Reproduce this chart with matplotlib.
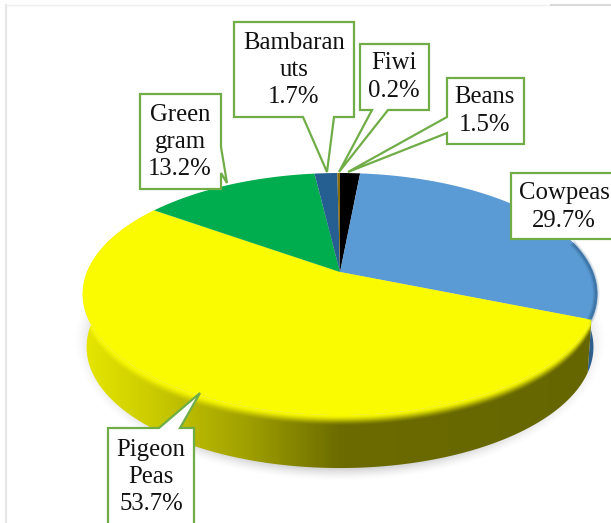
import numpy as np
import matplotlib
matplotlib.use('Agg')
import matplotlib.pyplot as plt
from matplotlib.patches import Polygon
from matplotlib.path import Path
from matplotlib.transforms import Affine2D, Transform

# Data setup, clockwise from the top
names = ['Beans', 'Cowpeas', 'Pigeon Peas', 'Green gram', 'Bambaranuts', 'Fiwi']
values = [1.5, 29.7, 53.7, 13.2, 1.7, 0.2]
colors = ['#000000', '#5b9bd5', '#fafa00', '#00ad4e', '#255e91', '#8a6d10']
label_text = ['Beans\n1.5%', 'Cowpeas\n29.7%', 'Pigeon\nPeas\n53.7%',
              'Green\ngram\n13.2%', 'Bambaran\nuts\n1.7%', 'Fiwi\n0.2%']

# pie tilt in pixels
cx, cy = 340, 272
k = 0.182
a = 117.0
b = 253.0
depth = 53
W, H = 611, 523


def project(uv):
    uv = np.asarray(uv, dtype=float)
    w = 1 + k * uv[:, 1]
    return np.column_stack([cx + b * uv[:, 0] / w, cy - a * uv[:, 1] / w])


class Tilt(Transform):
    input_dims = 2
    output_dims = 2

    def transform_non_affine(self, values):
        return project(values)

    def transform_path_non_affine(self, path):
        # flatten the curves first, beziers do not survive the perspective
        big = path.transformed(Affine2D().scale(2000))
        poly = big.to_polygons(closed_only=False)[0] / 2000
        return Path(project(poly))


def rim(deg, radius=1.0):
    t = np.radians(deg)
    return project(np.column_stack([radius * np.cos(t), radius * np.sin(t)]))


def lower(pts):
    out = pts.copy()
    out[:, 0] = cx + (out[:, 0] - cx) * 0.985
    out[:, 1] = out[:, 1] + depth
    return out


def mix(c1, c2, t):
    t = t[..., None]
    return c1 * (1 - t) + c2 * t


fig = plt.figure(figsize=(W / 100, H / 100), dpi=100)
ax = fig.add_axes([0, 0, 1, 1])

wedges, _ = ax.pie(values, colors=colors, startangle=90, counterclock=False,
                   wedgeprops={'linewidth': 0})
tilt = Tilt()
for w in wedges:
    w.set_transform(tilt + ax.transData)
    w.set_zorder(5)

xx, yy = np.meshgrid(np.arange(W) + 0.5, np.arange(H) + 0.5)

# soft shadow under the pie
r = np.sqrt(((xx - 340) / 266) ** 2 + ((yy - 340) / 141) ** 2)
shadow = np.zeros((H, W, 4))
shadow[..., :3] = 0.45
shadow[..., 3] = 0.32 * np.clip((1 - r) / 0.09, 0, 1) ** 1.5
ax.imshow(shadow, extent=(0, W, H, 0), zorder=1, aspect='auto')

# shaded side of the yellow and blue slices
front = np.linspace(-180, 0, 400)
front_xy = rim(front)
low = np.argsort(front_xy[:, 0])
rim_y = np.interp(xx[0], front_xy[low, 0], front_xy[low, 1])
below = np.clip((yy - rim_y[None, :]) / 11, 0, 1)
below = below * below * (3 - 2 * below)

stops = [80, 150, 250, 340, 600]
side_shades = {
    '#fafa00': [(0.91, 0.91, 0.0), (0.80, 0.80, 0.0), (0.62, 0.62, 0.0),
                (0.42, 0.42, 0.0), (0.40, 0.40, 0.0)],
    '#5b9bd5': [(0.18, 0.37, 0.55)] * 5,
}
for w in wedges:
    col = w.get_facecolor()[:3]
    key = matplotlib.colors.to_hex(col)
    if key not in side_shades:
        continue
    lo, hi = w.theta1, w.theta2
    if lo > 20:
        lo, hi = lo - 360, hi - 360
    deg = np.linspace(lo, min(hi, 20), 200)
    top = rim(deg)
    bot = lower(top)
    poly = Polygon(np.vstack([top, bot[::-1]]), closed=True, transform=ax.transData,
                   facecolor='none', edgecolor='none')
    ax.add_patch(poly)
    shade = np.array(side_shades[key])
    grad = np.column_stack([np.interp(xx[0], stops, shade[:, i]) for i in range(3)])
    img = mix(np.tile(np.array(col), (H, W, 1)), grad[None, :, :], below)
    im = ax.imshow(np.clip(img, 0, 1), extent=(0, W, H, 0), zorder=2, aspect='auto')
    im.set_clip_path(poly)

    # darker edge on the blue top, near the side only
    if key == '#5b9bd5':
        deg2 = np.linspace(lo + 1, 14, 80)
        for lw, al in [(5, 0.15), (3, 0.25), (1.5, 0.4)]:
            inner = rim(deg2, 0.995)
            ax.plot(inner[:, 0], inner[:, 1], color='#2e5f8c', lw=lw, alpha=al, zorder=6)

# frame lines left over from the page
ax.plot([6, 6], [5, H], color='#e6e6e6', lw=1.5, zorder=3)
ax.plot([6, 551], [5, 5], color='#efefef', lw=1, zorder=3)
ax.plot([551, W], [4.5, 4.5], color='#d9d9d9', lw=1.5, zorder=3)

# callout outlines: box corners plus pointer, one per name
callouts = {
    'Bambaranuts': [(234, 22), (354, 22), (354, 117), (334, 117), (327, 172), (303, 117), (234, 117)],
    'Fiwi': [(360, 44), (429, 44), (429, 110), (388, 110), (339, 172), (372, 110), (360, 110)],
    'Beans': [(447, 78), (524, 78), (524, 144), (447, 144), (447, 133), (348, 172), (447, 117)],
    'Cowpeas': [(511, 173), (616, 173), (616, 239), (511, 239)],
    'Green gram': [(140, 94), (221, 94), (221, 147), (227, 183), (221, 173), (221, 189), (140, 189)],
    'Pigeon Peas': [(108, 428), (159, 428), (200, 393), (180, 428), (194, 428), (194, 530), (108, 530)],
}
label_centres = {
    'Bambaranuts': (294, 70), 'Fiwi': (394, 77), 'Beans': (485, 111),
    'Cowpeas': (564, 207), 'Green gram': (180, 142), 'Pigeon Peas': (151, 477),
}
for name, txt in zip(names, label_text):
    ax.add_patch(Polygon(callouts[name], closed=True, facecolor='white',
                         edgecolor='#70ad47', lw=1.6, zorder=8, clip_on=True))
    x, y = label_centres[name]
    ax.text(x, y, txt, ha='center', va='center', fontsize=17.8, color='#111111',
            family='Liberation Serif', linespacing=1.3, zorder=9)

ax.set_xlim(0, W)
ax.set_ylim(H, 0)
ax.set_aspect('auto')
ax.axis('off')

fig.savefig('out.png', dpi=100, facecolor='white')
